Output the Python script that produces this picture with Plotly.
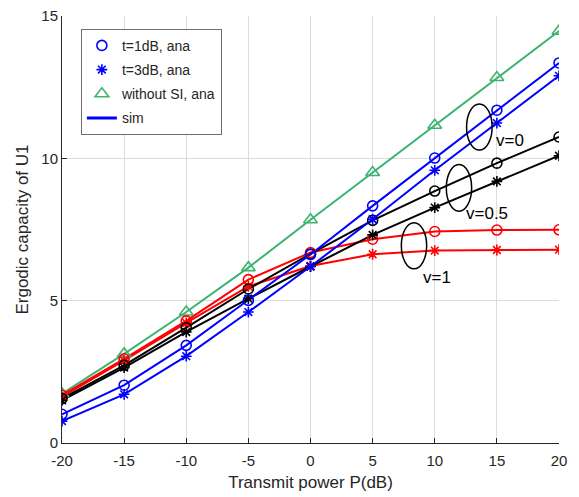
import plotly.graph_objects as go

# Transmit power (dB)
power_db = [-20, -15, -10, -5, 0, 5, 10, 15, 20]

# Ergodic capacity of U1
cap_v0_t1 = [1.01, 2.03, 3.43, 5.01, 6.62, 8.33, 10.01, 11.69, 13.35]
cap_v0_t3 = [0.77, 1.71, 3.05, 4.60, 6.20, 7.86, 9.58, 11.24, 12.90]
cap_v05_t1 = [1.56, 2.73, 4.05, 5.41, 6.64, 7.82, 8.85, 9.83, 10.75]
cap_v05_t3 = [1.50, 2.65, 3.90, 5.07, 6.20, 7.31, 8.27, 9.19, 10.09]
cap_v1_t1 = [1.68, 2.96, 4.29, 5.74, 6.69, 7.16, 7.43, 7.48, 7.49]
cap_v1_t3 = [1.62, 2.90, 4.22, 5.50, 6.22, 6.63, 6.76, 6.78, 6.79]
cap_no_si = [1.73, 3.13, 4.60, 6.16, 7.84, 9.50, 11.16, 12.84, 14.47]

x_ticks = [-20, -15, -10, -5, 0, 5, 10, 15, 20]
x_tick_text = ["-20", "-15", "-10", "-5", "0", "5", "10", "15", "20"]
y_ticks = [0, 5, 10, 15]

BLUE = "#0000ff"
BLACK = "#000000"
RED = "#ff0000"
GREEN = "#3cb371"
FONT = "Liberation Sans, Arial, sans-serif"
TXT = "#262626"

fig = go.Figure()

series = [
    (cap_no_si, GREEN, "triangle-up-open", 12, "without SI, ana", 3),
    (cap_v1_t1, RED, "circle-open", 10, None, 9),
    (cap_v1_t3, RED, "asterisk-open", 9, None, 9),
    (cap_v05_t1, BLACK, "circle-open", 10, None, 9),
    (cap_v05_t3, BLACK, "asterisk-open", 9, None, 9),
    (cap_v0_t1, BLUE, "circle-open", 10, "t=1dB, ana", 1),
    (cap_v0_t3, BLUE, "asterisk-open", 9, "t=3dB, ana", 2),
]

for vals, col, sym, sz, name, rk in series:
    fig.add_trace(go.Scatter(
        x=power_db, y=vals, mode="lines",
        line=dict(color=col, width=2),
        showlegend=False, hoverinfo="skip"))

for i, (vals, col, sym, sz, name, rk) in enumerate(series):
    fig.add_trace(go.Scatter(
        x=power_db, y=vals, mode="markers",
        marker=dict(symbol=sym, size=sz, color=col,
                    line=dict(color=col, width=1.6)),
        name=name if name else "",
        showlegend=name is not None,
        legendgroup="g%d" % i,
        legendrank=rk))

# legend-only sim line
fig.add_trace(go.Scatter(
    x=[None], y=[None], mode="lines", name="sim",
    legendgroup="gsim",
    line=dict(color=BLUE, width=3), legendrank=4))

# ellipses (data coordinates)
ellipses = [
    (12.56, 14.62, 10.29, 11.91),
    (10.93, 12.97, 8.14, 9.78),
    (7.31, 9.35, 6.12, 7.74),
]
for x0, x1, y0, y1 in ellipses:
    fig.add_shape(type="circle", xref="x", yref="y",
                  x0=x0, x1=x1, y0=y0, y1=y1,
                  line=dict(color=BLACK, width=1.5))

labels = [("v=0", 14.9, 10.63), ("v=0.5", 12.49, 8.06), ("v=1", 9.08, 5.83)]
for t, lx, ly in labels:
    fig.add_annotation(x=lx, y=ly, xref="x", yref="y", text=t,
                       showarrow=False, xanchor="left", yanchor="middle",
                       xshift=-2,
                       font=dict(family=FONT, size=17, color=BLACK))

axis_common = dict(
    showgrid=True, gridcolor="#dcdcdc", gridwidth=1,
    showline=True, linecolor=TXT, linewidth=1,
    ticks="inside", ticklen=5, tickcolor=TXT,
    tickfont=dict(family=FONT, size=15, color=TXT),
    zeroline=False, mirror=False, automargin=False,
)

fig.update_layout(
    width=579, height=497,
    margin=dict(l=62, r=20, t=16, b=54),
    paper_bgcolor="white", plot_bgcolor="white",
    font=dict(family=FONT, color=TXT),
    xaxis=dict(range=[-20, 20], tickvals=x_ticks, ticktext=x_tick_text,
               ticklabelstandoff=4,
               title=dict(text="Transmit power P(dB)", standoff=8,
                          font=dict(family=FONT, size=17, color=TXT)),
               **axis_common),
    yaxis=dict(range=[0, 15], tickvals=y_ticks,
               title=dict(text="Ergodic capacity of U1", standoff=8,
                          font=dict(family=FONT, size=17, color=TXT)),
               **axis_common),
    legend=dict(x=0.038, y=0.97, xanchor="left", yanchor="top",
                bgcolor="white", bordercolor="#6e6e6e", borderwidth=1,
                font=dict(family=FONT, size=14, color=TXT),
                tracegroupgap=3, itemwidth=30),
)

fig.write_html(
    "out.html",
    config={"displayModeBar": False},
    post_script="document.body.style.margin='0';document.body.style.padding='0';",
)
